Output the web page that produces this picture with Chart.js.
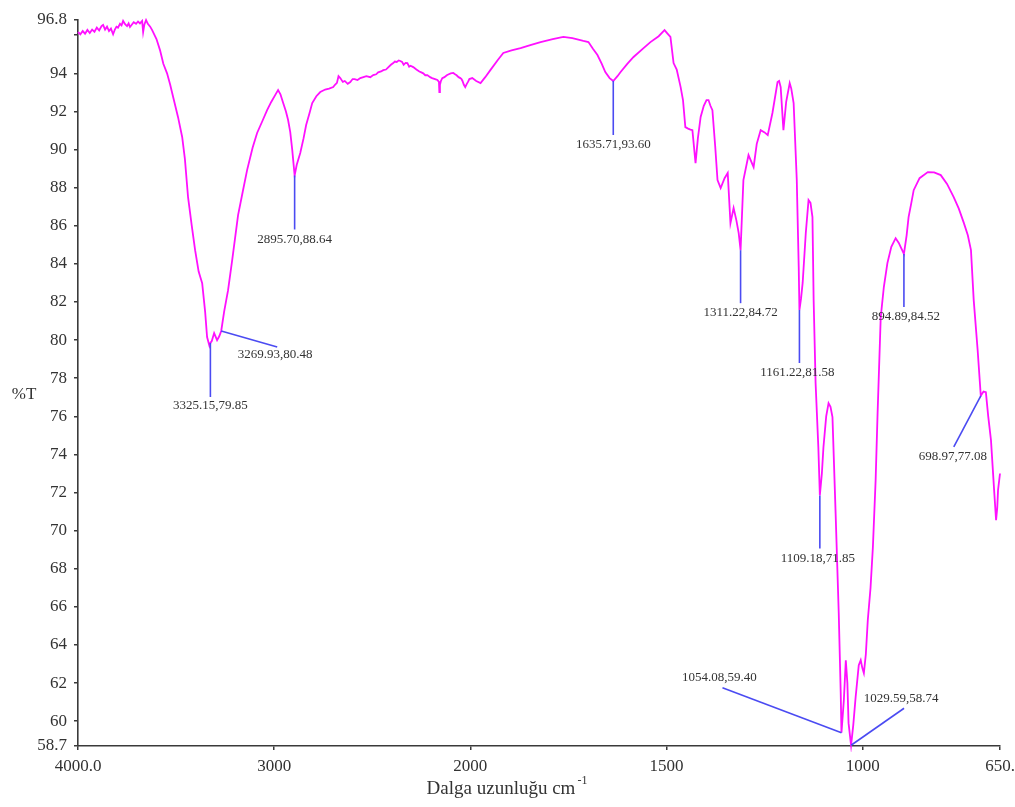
<!DOCTYPE html>
<html>
<head>
<meta charset="utf-8">
<script src="https://cdn.jsdelivr.net/npm/chart.js@4.4.1/dist/chart.umd.min.js"></script>
<style>
html,body{margin:0;padding:0;background:#fff;}
#c{display:block;}
</style>
</head>
<body>
<canvas id="c" width="1015" height="807"></canvas>
<script>
// ---------------- data ----------------
const wavenumber = [
4000,3988,3976,3964,3952,3940,3928,3916,3904,3892,3880,3872,3862,3852,3842,3832,3821,3812,3804,3796,3786,3778,3770,3760,3750,3742,3735,3726,3716,3704,3694,3684,3673,3668,3662,3653,3644,3632,3622,3600,3582,3565,3546,3530,3515,3490,3469,3455,3439,3420,3403,3385,3367,3352,3342,3330,3325.15,3318,3306,3291,3280,3269.93,3255,3235,3214,3200,3184,3160,3138,3110,3087,3060,3036,3015,2995,2980,2968,2954,2940,2929,2918,2908,2895.70,2885,2867,2850,2837,2820,2806,2785,2765,2740,2720,
2699,2690,2680,2672,2663,2650,2640,2625,2612,2600,2590,2575,2561,2545,2530,2510,2495,2480,2470,2455,2444,2430,2420,2405,2393,2385,2375,2365,2357,2348,2340,2330,2321,2312,2305,2291,2275,2260,2250,2240,2230,2219,2205,2195,2180,2168,2160,2158,2155,2150,2143,2132,2120,2110,2100,2087,2078,2070,2060,2051,2045,2040,2033,2026,2018,2012,2005,1995,1985,1974,
1962,1949,1930,1916,1895,1872,1845,1821,1790,1763,1740,1712,1699,1688,1676,1665,1656,1645,1635.71,1625,1617,1600,1584,1560,1541,1520,1505,1498,1490,1482,1474,1464,1458,1452,1445,1439,1434,1426,1420,1413,1405,1398,1393,1388,1383,1376,1370,1362,1352,1344,1337,1329,1322,1316,1311.22,1304,1291,1278,1270,1260,1250,1242,1230,1217,1213,1209,1202,1195,1186,1182,1176,1168,1163,1161.22,1157,1153,1145,1138,1133,1128,1125,1120,1113,1109.18,1104,1100,1093,1087,1082,1077,1069,1061,1056,1054.08,1048,1043,1039,1036,1029.59,1024,1018,1010,1005,1001,997,992,987,980,974,967,962,954,946,937,927,916,908,903,894.89,888,883,876,870,855,834,818,801,785,768,755,742,732,724,717,707,698.97,692,686,680,673,665,660,657,655,650];
const transmittance = [
96.17,96.05,96.22,96.08,96.28,96.12,96.30,96.18,96.40,96.25,96.48,96.54,96.30,96.45,96.22,96.35,96.05,96.30,96.45,96.40,96.60,96.52,96.75,96.58,96.48,96.62,96.43,96.55,96.68,96.60,96.72,96.62,96.75,96.17,96.55,96.80,96.60,96.45,96.27,95.80,95.22,94.50,94.00,93.40,92.76,91.70,90.66,89.50,87.50,86.00,84.72,83.60,82.99,81.50,80.16,79.70,79.85,79.95,80.37,80.00,80.20,80.48,81.50,82.62,84.20,85.30,86.56,87.80,88.92,90.10,90.87,91.50,92.07,92.50,92.86,93.12,92.90,92.44,92.00,91.55,90.92,90.00,88.64,89.20,89.82,90.60,91.29,91.90,92.44,92.80,93.02,93.15,93.20,
93.28,93.40,93.50,93.85,93.75,93.55,93.60,93.45,93.54,93.70,93.70,93.65,93.75,93.80,93.85,93.80,93.91,93.95,94.05,94.10,94.17,94.20,94.30,94.45,94.54,94.62,94.60,94.68,94.65,94.60,94.45,94.55,94.54,94.35,94.40,94.33,94.20,94.10,94.05,94.00,93.90,93.91,93.80,93.75,93.70,93.65,93.55,93.02,93.40,93.60,93.75,93.80,93.90,93.95,94.00,94.02,93.95,93.90,93.80,93.75,93.70,93.60,93.40,93.28,93.45,93.55,93.70,93.75,93.60,93.49,
93.80,94.17,94.70,95.07,95.20,95.33,95.50,95.64,95.80,95.91,95.85,95.70,95.64,95.30,94.96,94.50,94.07,93.75,93.60,93.85,94.07,94.50,94.86,95.30,95.64,95.95,96.27,96.10,95.91,94.54,94.20,93.28,92.60,91.18,91.10,91.05,91.02,89.29,90.60,91.71,92.30,92.60,92.60,92.30,92.07,90.20,88.40,87.98,88.50,88.77,86.14,86.93,86.30,85.62,84.72,88.40,89.71,89.08,90.30,91.02,90.90,90.76,91.92,93.54,93.60,93.28,91.02,92.50,93.49,93.20,92.44,88.40,83.83,81.58,82.20,83.00,85.62,87.35,87.20,86.46,82.10,77.74,74.38,71.85,73.00,74.38,76.00,76.69,76.50,75.96,70.92,65.67,61.50,59.40,61.10,63.20,62.00,59.90,58.74,59.80,61.26,62.94,63.20,62.80,62.52,63.50,65.30,67.00,69.13,72.65,76.17,81.20,82.80,84.04,84.90,85.35,85.10,84.88,84.52,85.50,86.46,87.20,87.87,88.50,88.82,88.80,88.66,88.20,87.51,86.90,86.14,85.50,84.72,82.10,79.48,77.08,77.30,77.27,76.00,74.75,72.13,70.55,71.20,72.13,73.00];

// peaks that carry a label
const peakWave = [3325.15, 3269.93, 2895.70, 1635.71, 1311.22, 1161.22, 1109.18, 1054.08, 1029.59, 894.89, 698.97];
const peakT    = [79.85, 80.48, 88.64, 93.60, 84.72, 81.58, 71.85, 59.40, 58.74, 84.52, 77.08];

// axis ticks
const xTickValues = [4000, 3000, 2000, 1500, 1000, 650];
const xTickLabels = ['4000.0', '3000', '2000', '1500', '1000', '650.'];
const yTickValues = [58.7, 60, 62, 64, 66, 68, 70, 72, 74, 76, 78, 80, 82, 84, 86, 88, 90, 92, 94, 96, 96.8];
const yTickLabels = ['58.7', '60', '62', '64', '66', '68', '70', '72', '74', '76', '78', '80', '82', '84', '86', '88', '90', '92', '94', '', '96.8'];

const yTitle = '%T';
const xTitle = 'Dalga uzunluğu cm';
const xTitleSup = '-1';

// ---------------- layout / style (not data) ----------------
// leader line end offset (px) from the peak, and label offset from the leader end
const leaderLayout = [
  {dx:0, dy:54, lx:0, ly:9},
  {dx:56, dy:16, lx:-2, ly:8},
  {dx:0, dy:54, lx:0, ly:10},
  {dx:0, dy:54, lx:0, ly:10},
  {dx:0, dy:53, lx:0, ly:9},
  {dx:0, dy:53, lx:-2, ly:10},
  {dx:0, dy:53, lx:-2, ly:10},
  {dx:-119, dy:-45, lx:-3, ly:-10},
  {dx:53, dy:-37, lx:-3, ly:-10},
  {dx:0, dy:53, lx:2, ly:10},
  {dx:-27, dy:51, lx:-1, ly:10}
];

// Wavenumber axis: 4000-2000 at one scale, 2000-650 expanded x2
function toU(w){ return w >= 2000 ? w : 2 * w - 2000; }

const points = wavenumber.map((w, i) => ({x: toU(w), y: transmittance[i]}));

const serif = '"Liberation Serif", "Times New Roman", serif';
const axisColor = '#3a3a3a';
const textColor = '#333333';

const annotPlugin = {
  id: 'annot',
  afterDatasetsDraw(chart){
    const ctx = chart.ctx;
    const xs = chart.scales.x, ys = chart.scales.y;
    ctx.save();
    peakWave.forEach((w, i) => {
      const px = xs.getPixelForValue(toU(w));
      const py = ys.getPixelForValue(peakT[i]);
      const L = leaderLayout[i];
      const ex = px + L.dx, ey = py + L.dy;
      ctx.strokeStyle = '#4b4bf2';
      ctx.lineWidth = 1.6;
      ctx.beginPath();
      ctx.moveTo(px, py);
      ctx.lineTo(ex, ey);
      ctx.stroke();
      ctx.fillStyle = textColor;
      ctx.font = '13px ' + serif;
      ctx.textAlign = 'center';
      ctx.textBaseline = 'middle';
      ctx.fillText(w.toFixed(2) + ',' + peakT[i].toFixed(2), ex + L.lx, ey + L.ly);
    });
    ctx.restore();
  },
  afterDraw(chart){
    const ctx = chart.ctx;
    const area = chart.chartArea;
    ctx.save();
    ctx.fillStyle = textColor;
    ctx.font = '17px ' + serif;
    ctx.textAlign = 'center';
    ctx.textBaseline = 'middle';
    ctx.fillText(yTitle, 24, (area.top + area.bottom) / 2 + 12);
    ctx.font = '19px ' + serif;
    ctx.textAlign = 'left';
    ctx.textBaseline = 'alphabetic';
    const mainW = ctx.measureText(xTitle).width;
    ctx.font = '12px ' + serif;
    const supW = ctx.measureText(xTitleSup).width;
    const cx = (area.left + area.right) / 2 - 31;
    const startX = cx - (mainW + supW + 2) / 2 - 1;
    ctx.font = '19px ' + serif;
    ctx.fillText(xTitle, startX, 794);
    ctx.font = '12px ' + serif;
    ctx.fillText(xTitleSup, startX + mainW + 2, 784);
    ctx.restore();
  }
};

new Chart(document.getElementById('c'), {
  type: 'line',
  data: {
    datasets: [{
      data: points,
      borderColor: '#ff10ff',
      borderWidth: 1.8,
      pointRadius: 0,
      tension: 0,
      fill: false,
      clip: 6
    }]
  },
  options: {
    responsive: false,
    animation: false,
    devicePixelRatio: 1,
    parsing: false,
    layout: { padding: { top: 20, right: 15, bottom: 0, left: 0 } },
    plugins: { legend: { display: false }, tooltip: { enabled: false } },
    scales: {
      x: {
        type: 'linear',
        reverse: true,
        min: toU(650),
        max: toU(4000),
        afterBuildTicks(s){ s.ticks = xTickValues.map(w => ({value: toU(w)})); },
        afterFit(s){ s.height = 61; s.paddingLeft = 0; s.paddingRight = 0; },
        ticks: {
          autoSkip: false,
          maxRotation: 0,
          padding: 6,
          color: textColor,
          font: { family: serif, size: 17 },
          callback(v){
            const i = xTickValues.findIndex(w => toU(w) === v);
            return i >= 0 ? xTickLabels[i] : '';
          }
        },
        grid: { display: true, drawOnChartArea: false, drawTicks: true, tickLength: 4, color: axisColor, lineWidth: 1.5 },
        border: { display: true, color: axisColor, width: 1.6 }
      },
      y: {
        type: 'linear',
        min: 58.7,
        max: 96.8,
        afterBuildTicks(s){ s.ticks = yTickValues.map(v => ({value: v})); },
        afterFit(s){ s.width = 78; s.paddingTop = 0; s.paddingBottom = 0; },
        ticks: {
          autoSkip: false,
          padding: 7,
          color: textColor,
          font: { family: serif, size: 17 },
          callback(v){
            const i = yTickValues.findIndex(t => Math.abs(t - v) < 1e-6);
            return i >= 0 ? yTickLabels[i] : '';
          }
        },
        grid: { display: true, drawOnChartArea: false, drawTicks: true, tickLength: 4, color: axisColor, lineWidth: 1.5 },
        border: { display: true, color: axisColor, width: 1.6 }
      }
    }
  },
  plugins: [annotPlugin]
});
</script>
</body>
</html>
